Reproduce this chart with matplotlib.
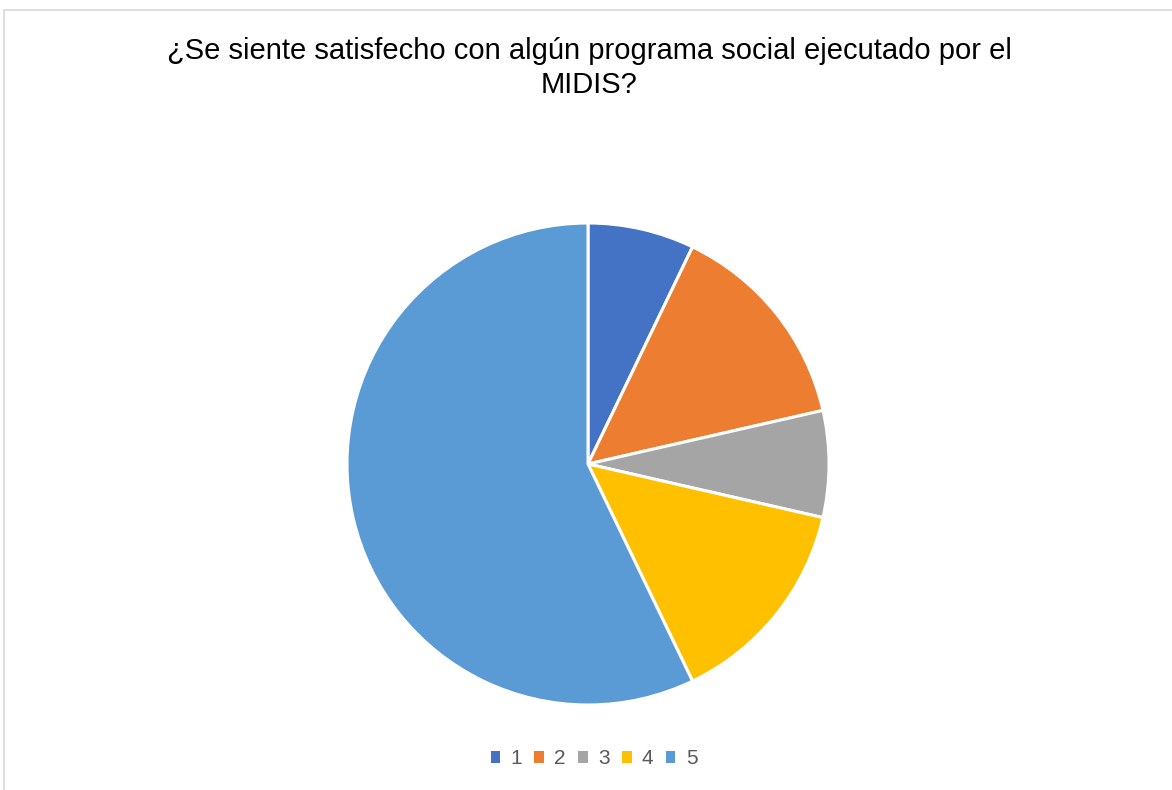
import matplotlib
matplotlib.use('Agg')
import matplotlib.pyplot as plt
from matplotlib.patches import Patch
from matplotlib.lines import Line2D

# Data
labels = ['1', '2', '3', '4', '5']
values = [1, 2, 1, 2, 8]
colors = ['#4472C4', '#ED7D31', '#A5A5A5', '#FFC000', '#5B9BD5']
title = '¿Se siente satisfecho con algún programa social ejecutado por el\nMIDIS?'

plt.rcParams['font.family'] = ['Liberation Sans', 'DejaVu Sans']

W, H = 1172, 790
fig = plt.figure(figsize=(W / 100, H / 100), dpi=100)

# light frame (top and left edges visible)
fig.add_artist(Line2D([3.5 / W, 1], [1 - 9.5 / H, 1 - 9.5 / H], color='#D9D9D9', lw=1.2))
fig.add_artist(Line2D([3.5 / W, 3.5 / W], [0, 1 - 9.5 / H], color='#D9D9D9', lw=1.2))

cx, cy, r = 588, 464, 241
ax = fig.add_axes([(cx - r) / W, (H - cy - r) / H, 2 * r / W, 2 * r / H])
ax.pie(values, colors=colors, startangle=90, counterclock=False,
       wedgeprops=dict(edgecolor='white', linewidth=2.2))
ax.set_xlim(-1, 1)
ax.set_ylim(-1, 1)
ax.set_aspect('equal')
ax.axis('off')

fig.text(589 / W, 1 - 68 / H, title, ha='center', va='center', fontsize=21,
         color='#000000', linespacing=1.25)

handles = [Patch(facecolor=c, edgecolor='none') for c in colors]
fig.legend(handles, labels, loc='center', bbox_to_anchor=(594 / W, 1 - 759 / H),
           ncol=5, frameon=False, fontsize=15, labelcolor='#595959',
           handlelength=0.45, handleheight=0.45, handletextpad=0.5,
           columnspacing=0.6)

fig.savefig('out.png', dpi=100, facecolor='white')
